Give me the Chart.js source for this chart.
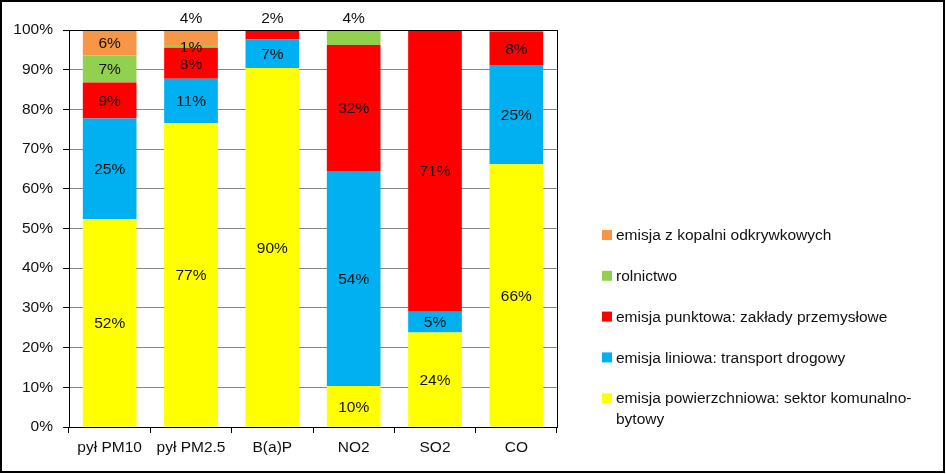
<!DOCTYPE html>
<html>
<head>
<meta charset="utf-8">
<script src="https://cdn.jsdelivr.net/npm/chart.js@4"></script>
<style>
  body { margin: 0; background: #fff; }
  #wrap { width: 946px; height: 474px; position: relative; }
</style>
</head>
<body>
<div id="wrap"><canvas id="myChart"></canvas></div>
<script>
// categories (pollutants)
const categories = ['pył PM10', 'pył PM2.5', 'B(a)P', 'NO2', 'SO2', 'CO'];
// series names, bottom -> top of the stack
const seriesNames = [
  'emisja powierzchniowa: sektor komunalno-bytowy',
  'emisja liniowa: transport drogowy',
  'emisja punktowa: zakłady przemysłowe',
  'rolnictwo',
  'emisja z kopalni odkrywkowych'
];
// shares in %
const powierzchniowa = [52.4, 76.6, 90.4, 10.3, 23.8, 66.2];
const liniowa        = [25.3, 11.1,  7.2, 54.2,  5.2, 25.0];
const punktowa       = [ 9.1,  7.8,  2.4, 31.7, 71.0,  8.4];
const rolnictwo      = [ 6.8,  0.7,  0.0,  3.8,  0.0,  0.4];
const kopalnie       = [ 6.4,  3.8,  0.0,  0.0,  0.0,  0.0];
const yTicks = [0, 10, 20, 30, 40, 50, 60, 70, 80, 90, 100];

const colors = ['#FFFF00', '#00B0F0', '#FF0000', '#92D050', '#F79646'];
const FONT = "'Liberation Sans', Arial, sans-serif";
const FSIZE = 15.5;

//labels of these segments sit above the plot, like in the original
const aboveLabels = ['4-1', '2-2', '3-3'];

const seriesData = [powierzchniowa, liniowa, punktowa, rolnictwo, kopalnie];

//value labels + frame + legend
const extras = {
  id: 'extras',
  afterDatasetsDraw(chart) {
    const ctx = chart.ctx;
    const area = chart.chartArea;
    ctx.save();
    ctx.font = FSIZE + 'px ' + FONT;
    ctx.fillStyle = '#111';
    ctx.textAlign = 'center';
    ctx.textBaseline = 'middle';
    chart.data.datasets.forEach(function (ds, di) {
      chart.getDatasetMeta(di).data.forEach(function (bar, i) {
        const v = Math.round(ds.data[i]);
        if (!v) return;
        let y = (bar.y + bar.base) / 2;
        if (aboveLabels.indexOf(di + '-' + i) >= 0) y = area.top - 12;
        ctx.fillText(v + '%', bar.x, y + 1);
      });
    });
    // plot frame
    ctx.strokeStyle = '#000';
    ctx.lineWidth = 1;
    ctx.strokeRect(Math.round(area.left) + 0.5, Math.round(area.top) + 0.5,
      Math.round(area.right - area.left), Math.round(area.bottom - area.top));
    ctx.restore();
  },
  afterDraw(chart) {
    const ctx = chart.ctx;
    ctx.save();
    ctx.font = FSIZE + 'px ' + FONT;
    ctx.textAlign = 'left';
    ctx.textBaseline = 'middle';
    let y = 235;
    for (let k = seriesNames.length - 1; k >= 0; k--) {
      ctx.fillStyle = colors[k];
      ctx.fillRect(602, y - 5, 10, 10);
      ctx.fillStyle = '#111';
      const lines = wrapText(ctx, seriesNames[k], 310);
      lines.forEach(function (line, j) {
        ctx.fillText(line, 616, y + 1 + j * 21);
      });
      y += 40.8;
    }
    // outer frame
    ctx.strokeStyle = '#000';
    ctx.lineWidth = 2;
    ctx.strokeRect(1, 1, 943, 471);
    ctx.restore();
  }
};

function wrapText(ctx, text, maxW) {
  const parts = text.match(/[^\s-]+-?\s*/g);
  const lines = [];
  let cur = '';
  parts.forEach(function (p) {
    if (cur && ctx.measureText((cur + p).trim()).width > maxW) {
      lines.push(cur.trim());
      cur = p;
    } else {
      cur += p;
    }
  });
  if (cur) lines.push(cur.trim());
  return lines;
}

const ctx = document.getElementById('myChart');
new Chart(ctx, {
  type: 'bar',
  data: {
    labels: categories,
    datasets: seriesData.map(function (d, k) {
      return {
        label: seriesNames[k],
        data: d,
        backgroundColor: colors[k],
        borderWidth: 0,
        categoryPercentage: 1,
        barPercentage: 0.66
      };
    })
  },
  options: {
    responsive: true,
    maintainAspectRatio: false,
    animation: false,
    layout: { padding: { left: 0, top: 30, right: 389, bottom: 0 } },
    plugins: { legend: { display: false }, tooltip: { enabled: false } },
    scales: {
      x: {
        stacked: true,
        afterFit: function (s) { s.height = 47; },
        grid: { drawOnChartArea: false, drawTicks: true, tickLength: 6, tickColor: '#000', offset: true },
        border: { color: '#000' },
        ticks: { color: '#111', padding: 5, font: { family: FONT, size: FSIZE }, maxRotation: 0 }
      },
      y: {
        stacked: true,
        min: 0,
        max: 100,
        afterFit: function (s) { s.width = 69; },
        afterBuildTicks: function (s) { s.ticks = yTicks.map(function (v) { return { value: v }; }); },
        grid: { color: '#868686', tickLength: 6, tickColor: '#000' },
        border: { color: '#000' },
        ticks: {
          color: '#111',
          padding: 10,
          font: { family: FONT, size: FSIZE },
          callback: function (v) { return v + '%'; }
        }
      }
    }
  },
  plugins: [extras]
});
</script>
</body>
</html>
